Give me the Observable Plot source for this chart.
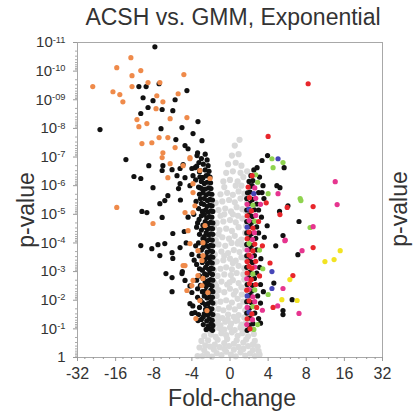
<!DOCTYPE html>
<html><head><meta charset="utf-8">
<script src="https://cdn.jsdelivr.net/npm/d3@7"></script>
<script src="https://cdn.jsdelivr.net/npm/@observablehq/plot@0.6"></script>
<style>body{margin:0;background:#fff}</style>
</head><body><div id="chart"></div>
<script>
const title = "ACSH vs. GMM, Exponential";
const xLabel = "Fold-change";
const yLabel = "p-value";
const xTickValues = [-32, -16, -8, -4, 0, 4, 8, 16, 32];
const xTickLabels = ["-32", "-16", "-8", "-4", "0", "4", "8", "16", "32"];
const xMinorValues = [-28, -24, -20, -14, -12, -10, -7, -6, -5, -2, 2, 5, 6, 7, 10, 12, 14, 20, 24, 28];
// y = -log10(p); labels "10-k" are drawn as 10 with a superscript exponent
const yTickValues = [0, 1, 2, 3, 4, 5, 6, 7, 8, 9, 10, 11];
const yTickLabels = ["1", "10-1", "10-2", "10-3", "10-4", "10-5", "10-6", "10-7", "10-8", "10-09", "10-10", "10-11"];

// points: [log2 fold-change, -log10 p-value]
const notSignificant = [
[-1.7,0.05],[-1.45,0.05],[-1.2,0.12],[-0.95,0.03],[-0.7,0.15],[-0.45,0.08],[-0.2,0.2],[0.05,0.1],[0.3,0.04],[0.55,0.18],[0.8,0.07],[1.05,0.14],[1.3,0.05],[1.55,0.1],[-1.35,0.25],[-0.85,0.28],[-0.3,0.3],[0.2,0.27],[0.7,0.3],[1.2,0.26],[1.5,0.22],
[-1.6,0.35],[-1.3,0.42],[-1.05,0.38],[-0.8,0.45],[-0.55,0.36],[-0.3,0.5],[-0.05,0.4],[0.2,0.48],[0.45,0.37],[0.7,0.52],[0.95,0.4],[1.2,0.46],[1.45,0.38],[-1.5,0.58],[-1.15,0.6],[-0.65,0.62],[-0.15,0.65],[0.35,0.6],[0.85,0.63],[1.3,0.58],
[-1.35,0.75],[-1.0,0.8],[-0.75,0.72],[-0.45,0.85],[-0.2,0.78],[0.1,0.88],[0.4,0.76],[0.65,0.85],[0.95,0.74],[1.25,0.82],[-1.2,0.95],[-0.85,1.0],[-0.55,1.02],[-0.3,0.97],[0.0,1.05],[0.25,0.96],[0.55,1.04],[0.8,0.98],[1.1,1.0],
[-1.05,1.15],[-0.75,1.2],[-0.5,1.12],[-0.25,1.25],[0.05,1.18],[0.3,1.28],[0.6,1.15],[0.85,1.22],[1.15,1.2],[-0.95,1.4],[-0.65,1.45],[-0.4,1.38],[-0.1,1.5],[0.2,1.42],[0.45,1.48],[0.75,1.4],[1.0,1.45],
[-0.9,1.62],[-0.6,1.7],[-0.35,1.65],[-0.05,1.75],[0.25,1.68],[0.5,1.8],[0.8,1.65],[-0.8,1.9],[-0.5,1.95],[-0.2,2.0],[0.1,1.92],[0.4,2.05],[0.7,1.95],[0.95,2.1],[-0.7,2.15],[0.2,2.2],
[-0.9,2.3],[-0.6,2.35],[-0.3,2.28],[0.0,2.4],[0.3,2.32],[0.6,2.45],[0.85,2.38],[-0.8,2.6],[-0.45,2.65],[-0.15,2.55],[0.15,2.7],[0.45,2.6],[0.75,2.72],[-0.65,2.85],[-0.3,2.9],[0.05,2.88],[0.35,2.95],[0.7,2.9],
[-0.85,3.05],[-0.5,3.1],[-0.2,3.15],[0.1,3.08],[0.45,3.2],[0.75,3.12],[-0.7,3.35],[-0.35,3.4],[0.0,3.45],[0.3,3.38],[0.6,3.5],[-0.8,3.6],[-0.45,3.7],[-0.1,3.65],[0.2,3.75],[0.5,3.68],[0.8,3.8],[-0.6,3.95],[-0.25,3.9],[0.4,3.98],
[-0.75,4.1],[-0.4,4.2],[-0.05,4.15],[0.25,4.25],[0.6,4.12],[0.8,4.35],[-0.55,4.45],[-0.2,4.5],[0.1,4.42],[0.45,4.55],[-0.7,4.7],[-0.35,4.75],[0.0,4.8],[0.3,4.72],[0.65,4.85],[-0.5,4.95],[0.15,5.0],
[-0.6,5.15],[-0.25,5.2],[0.05,5.1],[0.35,5.25],[0.65,5.18],[-0.4,5.45],[-0.05,5.5],[0.25,5.42],[0.55,5.55],[-0.5,5.7],[-0.15,5.75],[0.15,5.68],[0.45,5.8],[0.75,5.72],[-0.3,5.95],[0.3,6.0],
[-0.35,6.15],[0.0,6.2],[0.4,6.15],[0.7,6.3],[-0.2,6.45],[0.15,6.5],[0.55,6.45],[-0.1,6.75],[0.3,6.8],[0.6,6.7],[0.1,7.05],[0.45,7.1],[0.25,7.4],[0.5,7.6],
[-0.62,1.3],[-0.12,1.32],[0.38,1.3],[0.9,1.3],[-0.72,2.5],[-0.02,2.62],[0.62,2.2],[0.88,2.85],[-0.88,3.3],[0.15,3.3],[0.85,3.45],[-0.3,3.55],[0.62,3.95],[-0.85,4.0],[0.08,4.0],[0.45,4.05],[-0.6,4.3],[0.85,4.6],[-0.85,4.55],[0.42,4.95],[-0.3,5.0],[0.85,5.1],[0.9,5.4],[-0.75,5.4],[0.6,6.0],[0.9,6.5]
];

const blackPoints = [
// left, scattered
[-2.97,10.85],[-3.39,9.46],[-3.2,9.46],[-2.86,9.56],[-2.13,9.32],[-3.28,9.07],[-3.02,8.97],[-2.44,9.0],[-3.15,8.73],[-2.78,8.66],[-2.5,8.62],[-3.34,8.52],[-1.68,8.24],[-2.81,7.99],[-2.26,8.03],[-4.41,7.96],[-1.94,7.82],[-2.42,7.61],[-1.47,7.57],[-2.18,7.4],[-2.1,7.29],[-1.73,7.05],[-3.73,6.91],[-1.63,6.81],[-3.13,6.7],[-2.76,6.7],[-2.23,6.74],[-2.78,6.53],[-2.52,6.56],[-2.31,6.6],[-1.84,6.63],[-1.58,6.53],[-3.52,6.32],[-3.34,6.25],[-2.39,6.35],[-2.18,6.28],[-1.94,6.35],[-1.42,6.28],[-1.16,6.35],[-3.02,5.93],[-2.31,6.07],[-2.05,6.0],[-1.58,5.93],
[-3.31,5.1],[-3.18,5.06],[-2.84,5.37],[-2.71,5.48],[-2.78,4.89],[-2.63,5.65],[-2.5,4.33],[-3.34,3.91],[-3.05,3.8],[-2.89,3.94],[-2.71,3.98],[-2.84,3.56],[-2.52,3.66],[-2.5,3.46],[-2.31,3.84],[-2.68,2.93],[-2.52,2.79],[-2.26,2.93],[-2.18,2.69],[-2.52,2.3],[-2.0,2.27],[-2.05,1.88],[-2.0,1.54],[-1.68,1.29],[-1.84,1.57],
[-2.3,5.5],[-2.1,4.9],[-2.2,4.4],[-2.0,3.6],[-2.25,3.0],[-2.05,2.5],[-1.95,1.8],[-2.15,4.0],[-2.35,5.9],[-2.0,6.6],
// left, dense column
[-0.92,0.95],[-1.05,1.0],[-1.25,0.98],[-0.9,1.12],[-1.0,1.18],[-1.15,1.1],[-1.4,1.15],[-0.93,1.3],[-1.08,1.35],[-1.22,1.28],[-1.5,1.33],[-0.9,1.5],[-1.02,1.55],[-1.18,1.48],[-1.35,1.52],[-0.95,1.7],[-1.1,1.72],[-1.28,1.68],[-1.6,1.75],[-0.9,1.9],[-1.0,1.95],[-1.15,1.88],[-1.45,1.92],
[-0.92,2.1],[-1.05,2.12],[-1.2,2.08],[-1.35,2.15],[-1.7,2.1],[-0.9,2.3],[-1.0,2.35],[-1.12,2.28],[-1.3,2.32],[-0.94,2.5],[-1.08,2.55],[-1.25,2.48],[-1.55,2.52],[-0.9,2.7],[-1.02,2.72],[-1.15,2.68],[-1.4,2.75],[-1.75,2.7],[-0.92,2.9],[-1.06,2.95],[-1.22,2.88],[-1.33,2.92],
[-0.9,3.1],[-1.0,3.12],[-1.12,3.08],[-1.28,3.15],[-1.6,3.1],[-0.93,3.3],[-1.05,3.35],[-1.18,3.28],[-1.45,3.32],[-0.9,3.5],[-1.0,3.52],[-1.1,3.48],[-1.25,3.55],[-1.38,3.5],[-0.92,3.7],[-1.04,3.72],[-1.2,3.68],[-1.5,3.75],[-0.9,3.9],[-1.02,3.92],[-1.14,3.88],[-1.3,3.95],[-1.8,3.9],
[-0.93,4.1],[-1.06,4.12],[-1.2,4.08],[-1.42,4.15],[-0.9,4.3],[-1.0,4.32],[-1.12,4.28],[-1.25,4.35],[-1.6,4.3],[-0.92,4.5],[-1.05,4.52],[-1.18,4.48],[-1.35,4.55],[-0.9,4.7],[-1.02,4.72],[-1.15,4.68],[-1.3,4.75],[-1.7,4.7],[-0.95,4.9],[-1.08,4.92],[-1.22,4.88],[-1.5,4.95],
[-0.9,5.1],[-1.0,5.12],[-1.14,5.08],[-1.28,5.15],[-1.45,5.1],[-0.94,5.3],[-1.06,5.32],[-1.2,5.28],[-1.38,5.35],[-0.92,5.5],[-1.05,5.52],[-1.18,5.48],[-1.55,5.55],[-0.95,5.7],[-1.1,5.72],[-1.25,5.68],[-1.42,5.75],[-1.0,5.9],[-1.12,5.92],[-1.3,5.88],[-1.65,5.95],
[-1.02,6.1],[-1.2,6.12],[-1.35,6.08],[-1.5,6.15],[-1.05,6.3],[-1.25,6.35],[-1.45,6.28],[-1.1,6.5],[-1.3,6.55],[-1.6,6.48],[-1.15,6.7],[-1.4,6.75],[-1.75,6.68],[-1.2,6.9],[-1.5,6.95],[-1.3,7.1],[-1.7,7.15],
[-1.4,1.42],[-1.65,1.5],[-1.3,1.85],[-1.55,2.0],[-1.45,2.3],[-1.7,2.4],[-1.3,2.62],[-1.6,2.85],[-1.45,3.05],[-1.75,3.25],[-1.32,3.42],[-1.62,3.55],[-1.4,3.85],[-1.65,4.0],[-1.35,4.22],[-1.5,4.45],[-1.75,4.55],[-1.42,4.62],[-1.62,4.82],[-1.35,5.0],[-1.65,5.2],[-1.5,5.38],[-1.78,5.45],[-1.35,5.55],[-1.6,5.7],[-1.48,5.9],[-1.8,6.2],[-1.58,6.3],[-1.9,5.0],[-1.88,3.4],
// right
[0.9,0.95],[1.0,1.12],[1.2,1.18],[1.05,1.38],[1.5,1.36],[0.88,1.55],[1.3,1.55],[1.02,1.72],[0.88,1.95],[1.12,1.92],[1.6,1.9],[1.05,2.18],[1.45,2.15],[1.15,2.32],[0.9,2.55],[1.18,2.52],[1.6,2.55],[1.0,2.78],[1.28,2.76],[1.05,2.98],[1.4,2.95],
[0.88,3.15],[1.55,3.15],[1.02,3.38],[1.18,3.32],[0.88,3.55],[1.28,3.56],[1.05,3.78],[1.4,3.76],[0.88,3.95],[1.15,3.92],[1.02,4.18],[1.35,4.16],[0.88,4.35],[1.12,4.32],[1.5,4.35],[1.05,4.58],[1.4,4.56],[0.88,4.75],[1.15,4.72],[1.02,4.98],[1.18,4.92],
[0.88,5.15],[1.28,5.16],[1.5,5.15],[1.05,5.38],[1.4,5.36],[0.88,5.55],[1.18,5.52],[0.92,5.75],[1.05,5.78],[1.5,5.76],[1.1,5.98],[1.0,6.15],[1.2,6.18],[1.1,6.35],[1.25,6.55],
[1.97,7.05],[1.68,6.88],[2.42,6.63],[1.42,6.63],[1.16,6.0],[1.73,6.0],[2.23,6.0],[2.31,5.93],[1.68,5.76],[2.52,5.3],[2.81,4.75],[2.39,4.26],[2.78,3.59],[2.63,2.02],[2.39,1.64],[2.39,1.5],
[2.3,5.1],[2.2,3.9],[2.15,2.6],[1.95,4.6],
[1.6,1.2],[1.75,2.3],[1.62,3.45],[1.8,4.2],[1.65,4.9],[1.78,5.55],[1.55,6.3]
];

const orangePoints = [
[-3.6,10.47],[-3.97,10.12],[-3.57,9.84],[-3.34,10.02],[-2.21,9.88],[-4.6,9.46],[-3.57,9.46],[-3.15,9.6],[-2.84,9.6],[-4.07,9.28],[-3.89,9.18],[-3.81,8.93],[-2.36,9.21],[-2.92,9.14],[-2.76,8.93],[-2.94,8.69],[-2.57,8.34],[-2.13,8.38],[-3.44,8.31],[-3.18,8.17],[-3.39,8.06],[-2.86,7.68],[-2.63,7.68],[-3.31,7.47],[-3.05,7.5],[-2.44,7.33],[-2.76,7.15],[-2.78,6.98],[-2.05,6.94],[-2.57,6.77],[-2.63,6.28],[-1.94,6.07],
[-3.97,5.24],[-3.02,4.68],[-2.18,3.21],[-2.13,2.34],
[-2.23,6.7],[-2.05,6.98],[-2.18,5.06],[-1.94,5.06],[-2.1,4.43],[-1.42,4.01],[-1.68,3.73],[-2.23,3.21],[-1.42,3.56],[-1.68,2.86],[-1.16,2.27],[-1.47,2.51],[-2.0,2.51],[-1.94,5.76],[-1.84,5.3],[-2.05,3.98],[-1.47,3.39],[-1.42,2.76],[-1.94,2.69],[-1.31,4.61],[-1.58,1.99],[-1.21,1.64],[-1.79,1.36],[-1.05,6.25],[-1.58,6.53]
];

const redPoints = [
[3.05,9.56],[2.0,7.72],[1.16,6.35],[3.18,5.27],[2.5,5.24],[2.31,4.99],[3.18,3.84],[2.65,2.86],[2.13,1.75],[2.05,3.3],[1.9,5.4],
[1.05,1.0],[0.9,1.35],[1.15,1.52],[1.4,1.75],[1.0,1.98],[0.88,2.35],[1.02,2.58],[1.35,2.55],[1.12,2.72],[0.9,2.95],[1.0,3.18],[1.15,3.12],[0.9,3.35],[1.35,3.36],[1.0,3.58],[1.2,3.72],[1.3,3.96],[0.9,4.15],[1.0,4.38],[1.2,4.52],[0.9,4.95],[1.12,5.12],[1.02,5.58],[0.95,5.95],
[1.55,2.85],[1.7,3.9],[1.5,4.75]
];

const magentaPoints = [
[3.76,6.14],[2.26,5.72],[3.81,5.34],[3.18,4.57],[2.44,4.08],[2.89,3.73],[2.39,2.41],[2.81,1.54],[2.45,4.1],[2.25,1.8],
[0.88,1.15],[1.18,1.32],[0.9,1.75],[1.3,1.95],[1.2,2.12],[1.0,2.38],[0.88,2.75],[1.3,3.16],[1.12,3.52],[0.9,3.75],[1.18,4.12],[1.28,4.36],[1.0,4.78],[1.35,4.96],[0.9,5.35],[1.35,5.56],[1.3,5.92],
[1.7,1.65],[1.6,5.35]
];

const greenPoints = [
[2.1,6.94],[2.39,6.81],[2.13,6.63],[2.84,5.55],[2.0,5.72],[2.86,5.48],[3.1,4.54],[2.0,2.2],
[1.25,0.98],[1.45,1.15],[1.2,1.78],[1.3,2.36],[1.2,2.92],[1.55,3.75],[1.0,3.98],[1.3,4.76],[1.2,5.32],[1.45,6.12],[1.35,6.38],
[1.72,3.1]
];

const bluePoints = [
[2.26,6.94],[2.1,2.41],[2.1,3.0],
[1.0,1.58],[0.9,2.15],[0.9,4.55],[1.0,5.18],[1.25,5.72]
];

const yellowPoints = [
[3.89,3.73],[3.73,3.42],[3.49,3.35],[2.57,2.72],[2.36,2.02],[2.76,1.99]
];

// map signed log2 fold-change to the axis position (ticks equally spaced)
function pos(l) { const a = Math.abs(l); return Math.sign(l) * (a >= 2 ? a - 1 : a / 2); }
function fcPos(fc) { return fc === 0 ? 0 : pos(Math.sign(fc) * Math.log2(Math.abs(fc))); }

const xTickPos = xTickValues.map(fcPos);
const xMinorPos = xMinorValues.map(fcPos);
const yMinor = [];
for (let k = 0; k < 11; k++) for (let m = 2; m <= 9; m++) yMinor.push(k + 1 - Math.log10(m));

const groups = [
  {pts: notSignificant, color: "#d9d9d9", r: 3.1},
  {pts: blackPoints, color: "#111111", r: 2.6},
  {pts: orangePoints, color: "#ef8a4a", r: 2.6},
  {pts: greenPoints, color: "#8fd34f", r: 2.6},
  {pts: bluePoints, color: "#4646b8", r: 2.6},
  {pts: magentaPoints, color: "#e6358f", r: 2.6},
  {pts: redPoints, color: "#e8262c", r: 2.6},
  {pts: yellowPoints, color: "#f2e322", r: 2.6}
];

const font = "'Liberation Sans', Arial, Helvetica, sans-serif";

const chart = Plot.plot({
  width: 413,
  height: 411,
  marginLeft: 77,
  marginRight: 31,
  marginTop: 42,
  marginBottom: 54,
  style: {fontFamily: font, background: "#fff", color: "#333", overflow: "visible"},
  x: {type: "linear", domain: [-4, 4], axis: null},
  y: {type: "linear", domain: [0, 11], axis: null},
  marks: [
    ...groups.map(g => Plot.dot(g.pts, {x: d => pos(d[0]), y: d => d[1], r: g.r, fill: g.color, stroke: "none"})),
    Plot.frame({stroke: "#a8a8a8"}),
    Plot.axisX(xTickPos, {tickSize: 4, tickPadding: 6, fontSize: 16, stroke: "#999", fill: "#333",
      tickFormat: d => xTickLabels[xTickPos.indexOf(d)]}),
    Plot.axisX(xMinorPos, {tickSize: 2, stroke: "#999", tickFormat: () => ""}),
    Plot.axisY(yTickValues, {tickSize: 4, tickPadding: 8, fontSize: 15, stroke: "#999", fill: "#333",
      tickFormat: d => yTickLabels[d]}),
    Plot.axisY(yMinor, {tickSize: 2, stroke: "#aaa", tickFormat: () => ""}),
    Plot.text([title], {frameAnchor: "top", textAnchor: "middle", lineAnchor: "middle", dx: 3, dy: -25, fontSize: 23, fill: "#333"}),
    Plot.text([xLabel], {frameAnchor: "bottom", textAnchor: "middle", lineAnchor: "middle", dx: 2, dy: 41, fontSize: 23, fill: "#333"}),
    Plot.text([yLabel], {frameAnchor: "left", textAnchor: "middle", lineAnchor: "middle", rotate: -90, dx: -51, dy: 10, fontSize: 23, fill: "#333"}),
    Plot.text([yLabel], {frameAnchor: "right", textAnchor: "middle", lineAnchor: "middle", rotate: -90, dx: 17, dy: 9, fontSize: 23, fill: "#333"})
  ]
});

// draw "10-k" tick labels as 10 with a superscript exponent
d3.select(chart).selectAll("text").each(function () {
  const m = /^10(-\d+)$/.exec(this.textContent);
  if (m) {
    const el = d3.select(this);
    el.text("10");
    el.append("tspan").attr("dy", "-0.5em").attr("font-size", "0.62em").text(m[1]);
  }
});
document.getElementById("chart").appendChild(chart);
</script>
</body></html>
